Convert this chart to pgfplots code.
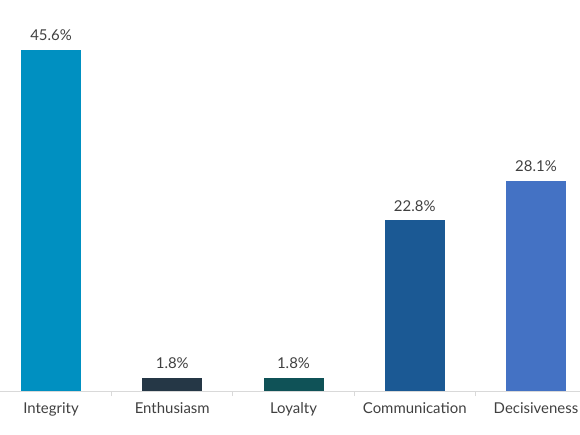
\documentclass[border=0pt]{standalone}
\usepackage{pgfplots}
\pgfplotsset{compat=1.18}
\usepackage{fontspec}
\setmainfont{Lato}
\definecolor{c1}{HTML}{0090C1}
\definecolor{c2}{HTML}{253746}
\definecolor{c3}{HTML}{0F5257}
\definecolor{c4}{HTML}{1B5994}
\definecolor{c5}{HTML}{4472C4}
\definecolor{txt}{HTML}{404040}
\definecolor{axl}{HTML}{D9D9D9}
\begin{document}
\begin{tikzpicture}
\path[use as bounding box, clip] (0,0) rectangle (580bp,435bp);
\begin{axis}[
  at={(-9.6bp,44bp)}, anchor=south west,
  scale only axis, width=606.2bp, height=374bp,
  xmin=-0.5, xmax=4.5, ymin=0, ymax=50,
  axis x line*=bottom, axis y line=none,
  x axis line style={draw=axl, line width=0.8bp, -},
  xtick={0,1,2,3,4},
  xticklabels={Integrity,Enthusiasm,Loyalty,Communication,Decisiveness},
  major tick length=0pt,
  minor xtick={0.5,1.5,2.5,3.5},
  minor tick length=5bp,
  minor tick style={draw=axl, line width=0.8bp},
  tick align=outside,
  xticklabel style={font=\fontsize{15}{18}\selectfont, text=txt, yshift=-8bp},
  ytick=\empty,
  bar width=60bp,
  ybar, bar shift=0pt,
  nodes near coords={\pgfmathprintnumber[fixed,precision=1,fixed zerofill]{\pgfplotspointmeta}\%},
  nodes near coords style={font=\fontsize{15}{18}\selectfont, text=txt, anchor=south, yshift=5.5bp},
  /pgf/number format/assume math mode=true,
  clip=false,
]
\addplot[fill=c1, draw=none] coordinates {(0,45.6)};
\addplot[fill=c2, draw=none] coordinates {(1,1.8)};
\addplot[fill=c3, draw=none] coordinates {(2,1.8)};
\addplot[fill=c4, draw=none] coordinates {(3,22.8)};
\addplot[fill=c5, draw=none] coordinates {(4,28.1)};
\end{axis}
\end{tikzpicture}
\end{document}
